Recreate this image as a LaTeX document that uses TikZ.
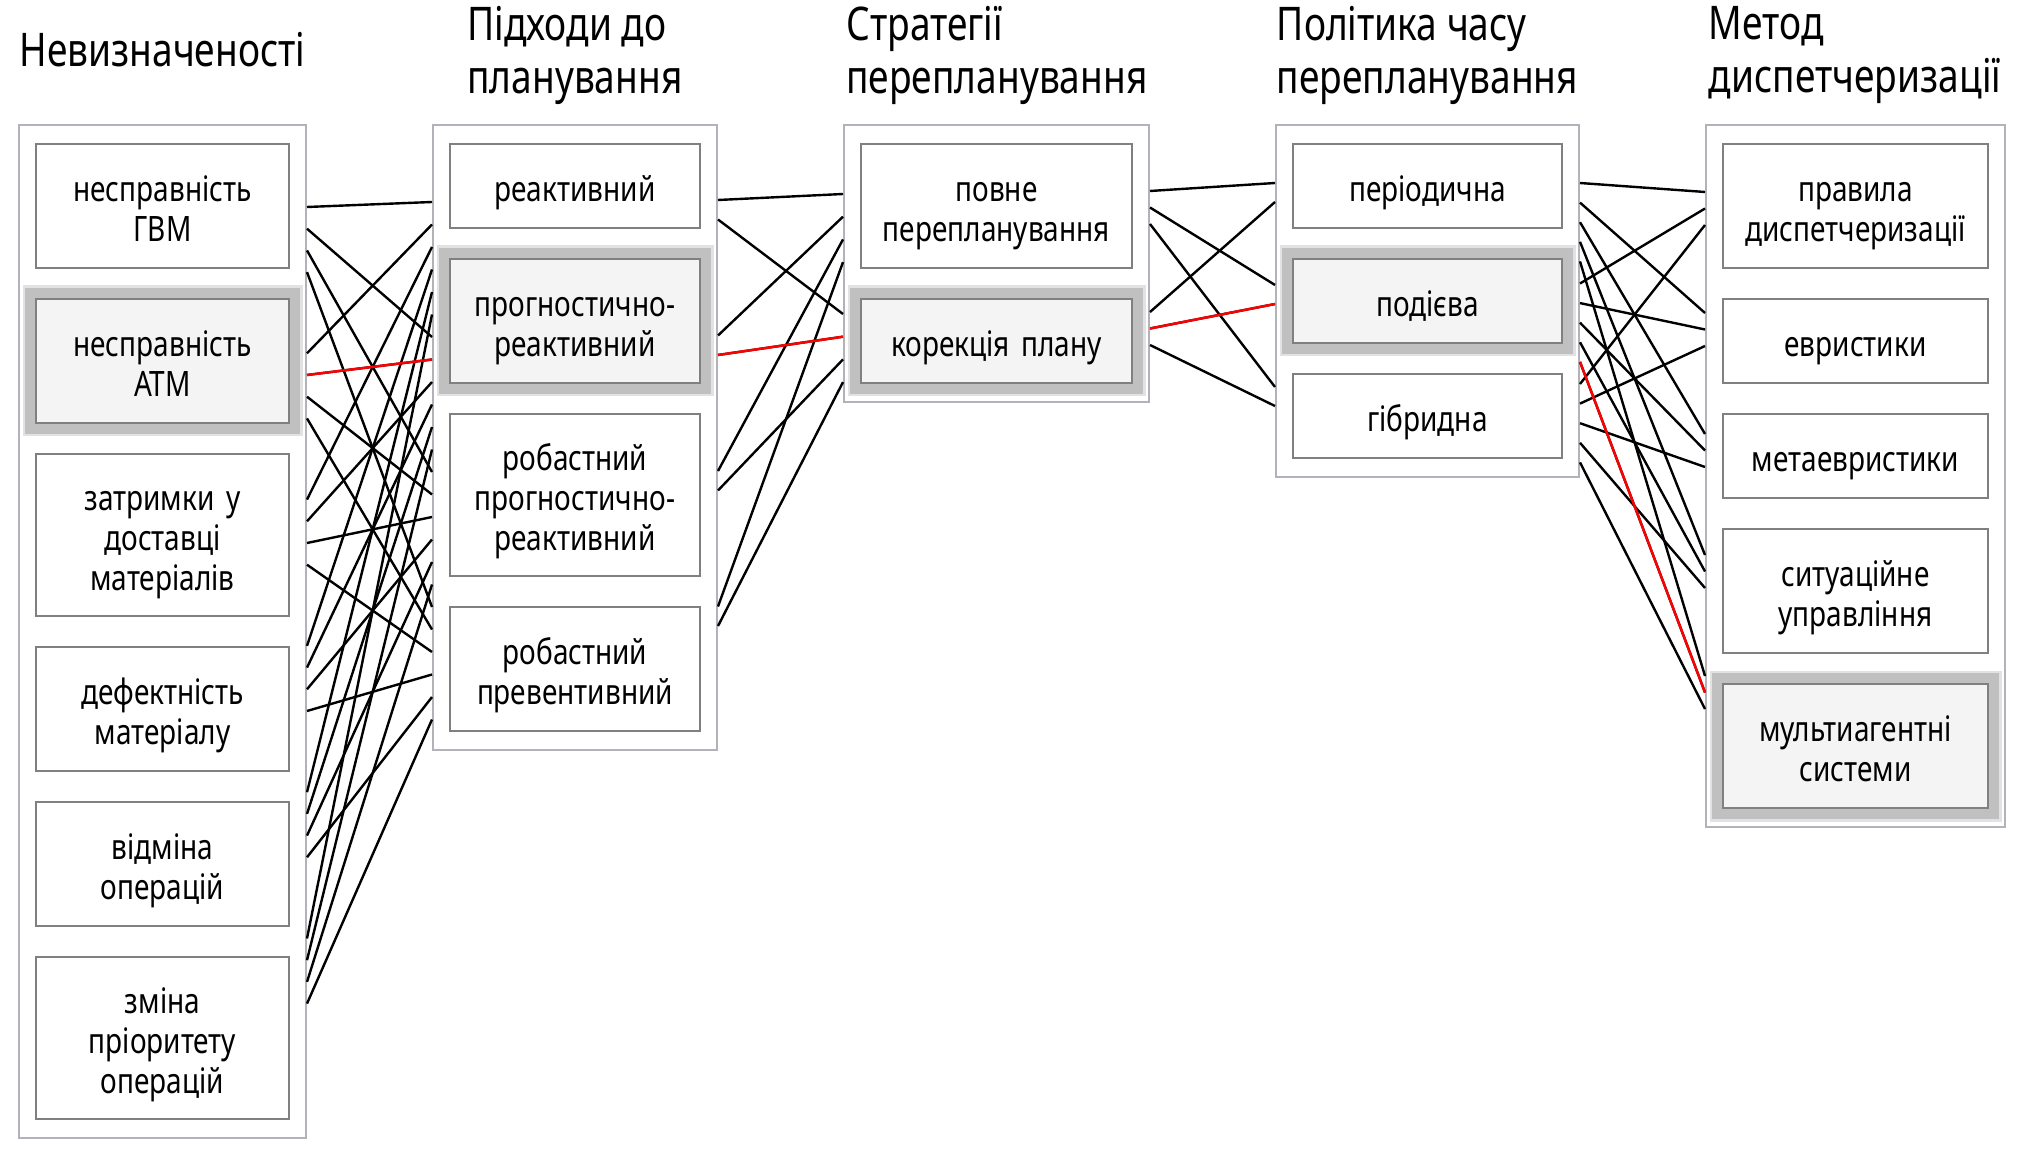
\documentclass[tikz,border=0pt]{standalone}
\usepackage{fontspec}
\setmainfont{Noto Sans}[FakeStretch=0.8]
\usepackage{tikz}
\usetikzlibrary{positioning,fit,calc}

\definecolor{grpline}{HTML}{B2B2B8}
\definecolor{itemline}{HTML}{808080}
\definecolor{pickfill}{HTML}{F4F4F4}
\definecolor{pickband}{HTML}{C0C0C0}
\definecolor{pickedge}{HTML}{E2E2E2}

\tikzset{
  grp/.style={draw=grpline,line width=1pt,inner xsep=8.5pt,inner ysep=9.5pt},
  item/.style={draw=itemline,line width=1.3pt,fill=white,outer sep=0pt,inner sep=0pt,text width=118pt,align=center,font=\fontsize{17.5}{20}\selectfont,
    execute at begin node={\rule{0pt}{20.5pt}},execute at end node={\rule[-5pt]{0pt}{0pt}}},
  one/.style={item,minimum height=42pt},
  two/.style={item,minimum height=62pt},
  three/.style={item,minimum height=81pt},
  picked/.style={fill=pickfill,preaction={draw=pickedge,line width=13.5pt},preaction={draw=pickband,line width=11pt}},
  head/.style={align=left,inner sep=0pt,text depth=2.5pt,font=\fontsize{23.2}{26.5}\selectfont},
  conn/.style={line width=1.2pt,black},
  hot/.style={line width=1.2pt,red},
}

\begin{document}
\begin{tikzpicture}[x=0.5pt,y=-0.5pt]
	\useasboundingbox (0,0) rectangle (2022,1165);
	% headers
	\node(hUnc) at (162.5,52) [head] {Невизначеності};
	\node(hAppr) at (575,52) [head] {Підходи до\\планування};
	\node(hStrat) at (997,52) [head] {Стратегії\\перепланування};
	\node(hPol) at (1427.5,52) [head] {Політика часу\\перепланування};
	\node(hDisp) at (1855,52) [head] {Метод\\диспетчеризації};
	% uncertainties
	\begin{scope}[nodes={minimum width=126.5pt}]
		\node(unc1) at (162.5,206) [two] {несправність\\ГВМ};
		\node(unc2) [below=15.5pt of unc1,two,picked] {несправність\\АТМ};
		\node(unc3) [below=15.5pt of unc2,three] {затримки у\\доставці\\матеріалів};
		\node(unc4) [below=15.5pt of unc3,two] {дефектність\\матеріалу};
		\node(unc5) [below=15.5pt of unc4,two] {відміна\\операцій};
		\node(unc6) [below=15.5pt of unc5,three] {зміна\\пріоритету\\операцій};
	\end{scope}
	% planning approaches
	\begin{scope}[nodes={minimum width=125pt}]
		\node(appr1) at (575,186) [one] {реактивний};
		\node(appr2) [below=15.5pt of appr1,two,picked] {прогностично-\\реактивний};
		\node(appr3) [below=15.5pt of appr2,three] {робастний\\прогностично-\\реактивний};
		\node(appr4) [below=15.5pt of appr3,two] {робастний\\превентивний};
	\end{scope}
	% rescheduling strategies
	\begin{scope}[nodes={minimum width=135.5pt}]
		\node(strat1) at (996.5,206) [two] {повне\\перепланування};
		\node(strat2) [below=15.5pt of strat1,one,picked] {корекція плану};
	\end{scope}
	% rescheduling policy
	\begin{scope}[nodes={minimum width=134.5pt}]
		\node(pol1) at (1427.5,186) [one] {періодична};
		\node(pol2) [below=15.5pt of pol1,one,picked] {подієва};
		\node(pol3) [below=15.5pt of pol2,one] {гібридна};
	\end{scope}
	% dispatching method
	\begin{scope}[nodes={minimum width=132.5pt}]
		\node(disp1) at (1855.5,206) [two] {правила\\диспетчеризації};
		\node(disp2) [below=15.5pt of disp1,one] {евристики};
		\node(disp3) [below=15.5pt of disp2,one] {метаевристики};
		\node(disp4) [below=15.5pt of disp3,two] {ситуаційне\\управління};
		\node(disp5) [below=15.5pt of disp4,two,picked] {мультиагентні\\системи};
	\end{scope}
	% group frames
	\node(grpUnc) [grp,fit=(unc1)(unc6)] {};
	\node(grpAppr) [grp,fit=(appr1)(appr4)] {};
	\node(grpStrat) [grp,fit=(strat1)(strat2)] {};
	\node(grpPol) [grp,fit=(pol1)(pol3)] {};
	\node(grpDisp) [grp,fit=(disp1)(disp5)] {};
	% ports on the frames
	\foreach \i in {1,...,6}
		\foreach \k in {1,...,4}
			\coordinate (unc\i-o\k) at ($(grpUnc.north east)+(0,{83+146.3*(\i-1)+21.7*(\k-1)})$);
	\foreach \k in {1,...,4} {
		\foreach \i in {1,...,6}
			\coordinate (appr\k-i\i) at ($(grpAppr.north west)+(0,{78+135*(\k-1)+22.5*(\i-1)})$);
		\foreach \m in {1,2}
			\coordinate (appr\k-o\m) at ($(grpAppr.north east)+(0,{76+135.5*(\k-1)+19.5*(\m-1)})$);
	}
	\foreach \m in {1,2} {
		\foreach \k in {1,...,4}
			\coordinate (strat\m-i\k) at ($(grpStrat.north west)+(0,{70+120*(\m-1)+22.7*(\k-1)})$);
		\foreach \n in {1,2,3}
			\coordinate (strat\m-o\n) at ($(grpStrat.north east)+(0,{67+121*(\m-1)+16.5*(\n-1)})$);
	}
	\foreach \n in {1,2,3} {
		\foreach \m in {1,2}
			\coordinate (pol\n-i\m) at ($(grpPol.north west)+(0,{59+102*(\n-1)+19*(\m-1)})$);
		\foreach \p in {1,...,5}
			\coordinate (pol\n-o\p) at ($(grpPol.north east)+(0,{59+100.5*(\n-1)+19.6*(\p-1)})$);
	}
	\foreach \p in {1,...,5}
		\foreach \n in {1,2,3}
			\coordinate (disp\p-i\n) at ($(grpDisp.north west)+(0,{68+121*(\p-1)+16.5*(\n-1)})$);
	% links
	\foreach \i in {1,...,6}
		\foreach \k in {1,...,4}
			\draw[conn] (unc\i-o\k) -- (appr\k-i\i);
	\foreach \k in {1,...,4}
		\foreach \m in {1,2}
			\draw[conn] (appr\k-o\m) -- (strat\m-i\k);
	\foreach \m in {1,2}
		\foreach \n in {1,2,3}
			\draw[conn] (strat\m-o\n) -- (pol\n-i\m);
	\foreach \n in {1,2,3}
		\foreach \p in {1,...,5}
			\draw[conn] (pol\n-o\p) -- (disp\p-i\n);
	% chosen path
	\draw[hot] (unc2-o2) -- (appr2-i2) (appr2-o2) -- (strat2-i2)
		(strat2-o2) -- (pol2-i2) (pol2-o5) -- (disp5-i2);
\end{tikzpicture}
\end{document}
